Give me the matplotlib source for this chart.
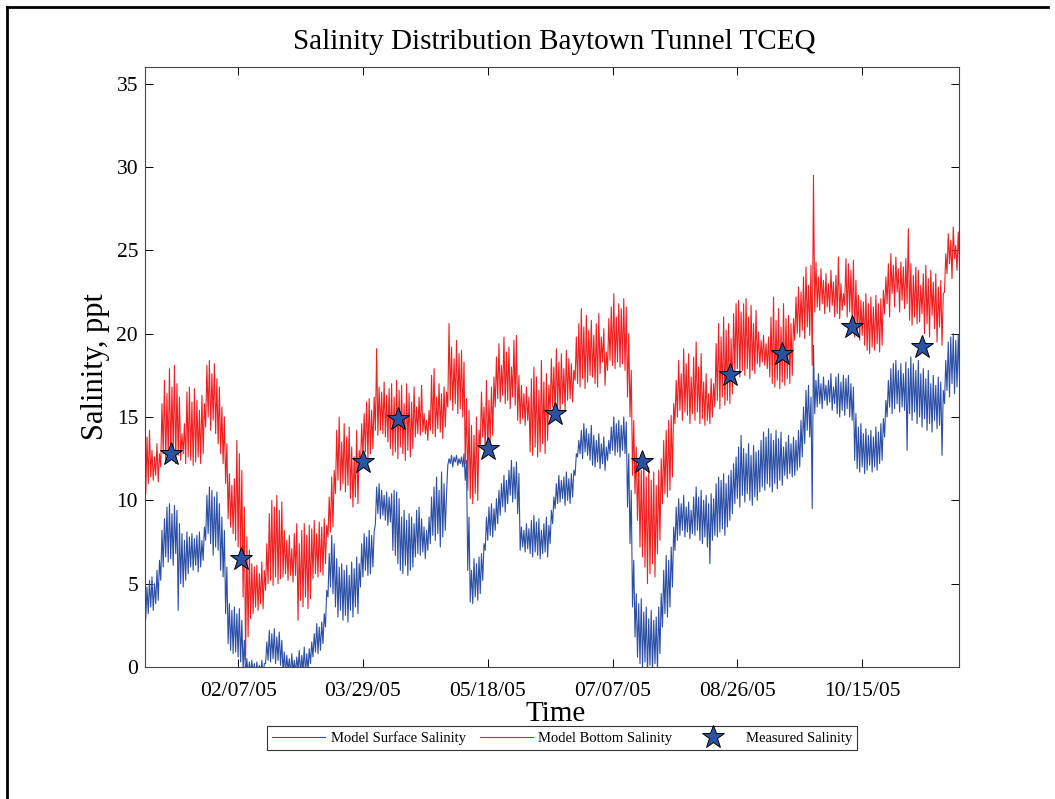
import numpy as np
import matplotlib
matplotlib.use("Agg")
import matplotlib.pyplot as plt
import matplotlib.dates as mdates
from matplotlib.lines import Line2D
from datetime import datetime

plt.rcParams["font.family"] = ["Liberation Serif", "DejaVu Serif"]

start = datetime(2005, 1, 1)

# Daily low / high of the modelled salinity (ppt), one value per day from 01/01/05
bottom_lo = [
    10.4, 11.0, 11.4, 11.2, 11.5, 11.1, 12.0, 12.8, 12.3, 12.6,
    12.5, 12.9, 12.2, 12.7, 12.4, 12.8, 12.2, 12.6, 12.4, 12.1,
    12.3, 12.6, 12.2, 12.8, 14.4, 15.0, 14.2, 14.8, 14.0, 13.4,
    12.8, 12.2, 11.0, 8.9, 8.4, 8.0, 7.6, 7.2, 6.4, 4.2,
    0.4, 1.8, 2.9, 3.2, 3.6, 3.4, 3.8, 3.5, 4.6, 5.0,
    5.2, 4.9, 5.4, 5.0, 5.3, 5.4, 5.6, 5.2, 5.5, 5.1,
    5.5, 2.8, 4.0, 3.6, 4.2, 3.5, 4.1, 5.3, 5.6, 5.4,
    5.7, 5.5, 6.2, 7.8, 8.1, 8.4, 10.4, 11.2, 10.6, 11.0,
    10.5, 10.9, 10.1, 9.6, 10.2, 9.8, 12.0, 12.6, 12.9, 12.5,
    12.8, 13.1, 14.2, 13.9, 14.2, 14.0, 13.8, 13.5, 13.1, 12.7,
    12.9, 12.5, 13.2, 12.8, 12.4, 13.0, 12.6, 13.1, 13.8, 14.0,
    13.9, 14.1, 14.0, 13.6, 14.2, 14.0, 13.8, 14.3, 14.1, 13.7,
    14.4, 15.6, 16.0, 15.4, 15.8, 15.2, 15.5, 15.0, 12.2, 10.6,
    10.1, 9.8, 10.4, 10.0, 13.2, 13.8, 13.1, 12.8, 13.5, 13.9,
    15.6, 16.1, 15.9, 16.3, 15.8, 16.0, 15.5, 16.2, 15.7, 14.8,
    14.6, 14.9, 14.5, 14.8, 12.9, 12.7, 13.2, 12.6, 12.9, 13.4,
    12.8, 13.6, 15.2, 15.6, 15.0, 15.5, 15.3, 15.8, 15.4, 16.0,
    16.1, 15.9, 17.2, 17.0, 16.8, 17.3, 16.7, 17.1, 17.5, 17.4,
    17.0, 16.8, 17.6, 18.3, 16.9, 17.8, 18.4, 18.1, 17.9, 18.3,
    18.0, 18.2, 17.8, 16.2, 15.0, 11.5, 10.4, 8.8, 7.2, 6.6,
    6.0, 5.0, 5.6, 6.2, 5.4, 6.8, 7.6, 9.8, 10.4, 10.2,
    10.6, 11.4, 14.6, 15.0, 15.4, 14.8, 15.3, 15.1, 14.6, 15.2,
    14.8, 15.3, 14.6, 14.9, 14.5, 14.8, 14.6, 15.0, 15.6, 16.0,
    15.5, 16.2, 15.7, 16.0, 15.8, 16.4, 17.6, 17.9, 17.4, 17.8,
    17.5, 17.9, 17.3, 17.8, 17.6, 18.2, 18.0, 18.3, 18.1, 17.9,
    17.4, 17.0, 16.8, 17.2, 16.7, 17.1, 16.9, 17.3, 17.0, 17.5,
    19.6, 20.0, 19.8, 20.2, 19.7, 20.4, 19.9, 18.1, 21.3, 21.6,
    21.4, 21.8, 21.2, 21.6, 21.3, 21.7, 21.0, 21.2, 20.9, 21.4,
    21.7, 21.0, 21.3, 20.8, 19.8, 20.1, 19.6, 19.9, 19.3, 19.0,
    18.8, 19.2, 19.0, 19.4, 18.9, 19.3, 21.2, 21.8, 21.0, 22.4,
    21.6, 22.5, 21.3, 22.0, 21.5, 21.8, 20.8, 20.5, 21.0, 20.6,
    20.7, 21.2, 20.0, 20.6, 19.8, 21.1, 20.3, 19.5, 20.4, 19.3,
    22.5, 23.6, 24.2, 23.3, 24.5, 23.8, 24.1, 22.8, 23.5, 24.0,
]
bottom_hi = [
    13.8, 14.2, 13.0, 12.6, 13.4, 12.8, 15.8, 17.2, 16.4, 17.9,
    16.8, 18.1, 17.0, 16.2, 14.0, 14.6, 16.5, 16.8, 15.9, 16.7,
    16.0, 15.4, 16.3, 15.8, 18.1, 18.4, 17.6, 18.2, 17.3, 16.8,
    15.6, 15.0, 13.4, 11.6, 10.9, 11.3, 13.6, 12.8, 11.8, 9.6,
    7.8, 7.0, 6.2, 6.0, 6.1, 5.6, 6.3, 5.8, 7.4, 9.2,
    10.0, 9.6, 10.3, 9.4, 9.9, 8.2, 7.6, 7.9, 7.1, 8.0,
    8.6, 7.4, 8.2, 8.6, 7.9, 8.5, 8.3, 8.8, 8.0, 8.7,
    8.4, 8.9, 8.5, 10.2, 11.4, 11.8, 14.2, 15.0, 13.5, 14.6,
    13.8, 14.4, 13.2, 12.6, 14.2, 13.0, 14.6, 15.2, 15.9, 16.1,
    15.4, 16.2, 19.1, 16.8, 16.5, 17.1, 16.3, 16.7, 17.0, 16.2,
    17.2, 16.6, 16.9, 15.8, 17.0, 16.4, 15.9, 16.8, 15.6, 16.2,
    16.9, 15.2, 14.8, 15.4, 17.5, 17.9, 16.2, 17.0, 16.4, 16.8,
    16.5, 20.6, 19.2, 18.5, 19.6, 18.8, 19.0, 18.3, 16.1, 15.4,
    14.5, 13.9, 15.0, 14.2, 16.5, 15.6, 17.2, 16.0, 16.8, 17.4,
    18.6, 19.4, 18.1, 19.8, 18.9, 19.2, 18.0, 19.6, 19.9, 17.5,
    16.9, 16.4, 16.8, 16.2, 17.3, 18.0, 17.4, 16.6, 18.4, 17.1,
    17.6, 16.9, 18.5, 18.0, 19.1, 18.3, 18.8, 17.9, 19.0, 18.5,
    18.2, 17.8, 19.8, 20.6, 21.5, 20.4, 21.1, 20.2, 20.8, 19.9,
    20.6, 21.2, 19.8, 20.3, 18.9, 20.9, 21.6, 22.4, 21.0, 21.8,
    21.5, 22.1, 21.6, 20.0, 17.8, 14.8, 13.2, 12.4, 11.8, 12.6,
    11.4, 12.0, 11.2, 11.7, 10.9, 11.8, 12.5, 13.6, 14.2, 14.8,
    15.1, 15.8, 17.2, 18.4, 17.6, 19.1, 18.2, 18.8, 17.4, 18.6,
    19.5, 18.0, 18.8, 17.1, 17.6, 16.4, 17.3, 17.0, 19.4, 20.6,
    19.8, 21.0, 20.2, 20.6, 19.7, 21.2, 21.8, 22.0, 21.3, 21.8,
    22.1, 21.0, 21.7, 20.6, 21.4, 20.1, 19.6, 19.9, 19.4, 19.8,
    21.0, 22.2, 20.8, 21.5, 20.4, 21.8, 20.9, 21.1, 20.6, 20.9,
    22.2, 22.8, 22.5, 23.4, 24.0, 22.9, 24.1, 29.5, 24.3, 23.4,
    23.9, 23.2, 23.6, 23.0, 23.8, 23.1, 23.5, 24.6, 23.0, 22.4,
    24.5, 24.2, 23.8, 24.4, 23.2, 22.3, 22.0, 21.9, 22.4, 21.8,
    22.2, 21.6, 22.3, 21.8, 22.1, 22.6, 23.4, 24.2, 24.8, 24.1,
    24.6, 23.9, 24.3, 24.0, 24.5, 26.3, 24.2, 23.5, 24.0, 23.8,
    22.9, 23.6, 24.1, 23.3, 23.8, 23.1, 23.6, 22.8, 23.2, 22.4,
    24.8, 26.0, 25.6, 26.4, 25.3, 26.1, 25.7, 25.9, 25.4, 25.8,
]
surface_lo = [
    2.9, 3.2, 3.6, 3.4, 3.8, 4.0, 5.2, 6.0, 6.6, 6.3,
    6.5, 6.1, 6.8, 3.4, 5.0, 4.8, 5.2, 5.6, 6.0, 5.8,
    6.1, 5.7, 6.0, 6.4, 7.6, 8.0, 7.4, 6.7, 7.2, 7.0,
    5.8, 5.4, 3.2, 1.4, 1.0, 0.8, 0.9, 0.6, 0.3, -0.2,
    -0.5, -0.6, -0.4, -0.5, -0.6, -0.5, -0.4, -0.6, 0.2, 0.4,
    0.3, 0.5, 0.2, 0.4, 0.1, -0.3, -0.4, -0.2, -0.5, -0.3,
    -0.4, -0.2, -0.5, -0.3, -0.4, -0.2, 0.2, 0.6, 0.9, 0.8,
    1.0, 1.4, 2.4, 4.2, 4.8, 4.4, 3.6, 3.0, 3.4, 2.8,
    3.1, 2.7, 3.4, 3.0, 3.6, 3.2, 4.8, 5.4, 5.8, 5.5,
    5.6, 6.0, 8.6, 9.2, 8.9, 9.1, 8.8, 8.5, 8.7, 7.0,
    6.7, 6.2, 5.8, 5.6, 6.1, 5.5, 5.8, 6.0, 6.6, 6.8,
    6.7, 6.9, 6.5, 7.0, 7.4, 7.9, 7.6, 8.0, 7.2, 7.8,
    8.2, 12.1, 12.2, 12.0, 12.3, 12.1, 12.2, 12.0, 11.2, 5.8,
    3.9, 3.8, 4.2, 4.0, 4.4, 5.2, 7.0, 7.6, 7.9, 7.8,
    8.2, 8.6, 9.1, 9.6, 9.3, 9.8, 10.3, 9.9, 10.1, 9.2,
    7.0, 7.2, 6.9, 7.1, 6.8, 6.6, 6.9, 6.7, 6.5, 6.8,
    6.9, 6.6, 7.4, 8.6, 9.5, 9.8, 9.9, 10.1, 9.7, 10.0,
    9.8, 10.2, 11.5, 12.6, 12.8, 12.5, 12.9, 12.7, 12.4, 12.1,
    12.0, 12.3, 11.9, 12.2, 11.8, 12.4, 12.8, 13.0, 12.7, 12.9,
    12.6, 13.0, 12.8, 9.6, 7.4, 3.6, 1.8, 0.6, 0.2, -0.1,
    0.3, -0.4, 0.1, -0.3, 0.2, -0.2, 0.8, 2.4, 3.2, 3.0,
    3.6, 4.8, 7.0, 7.6, 7.9, 8.2, 7.8, 8.1, 7.7, 8.0,
    7.9, 8.2, 7.6, 7.4, 7.8, 7.2, 6.2, 7.6, 7.9, 7.8,
    8.1, 8.3, 7.9, 8.4, 8.8, 9.2, 9.8, 10.1, 9.6, 10.3,
    9.9, 10.4, 10.0, 9.7, 10.2, 10.0, 10.5, 10.8, 10.6, 11.0,
    10.8, 10.5, 11.0, 10.7, 11.2, 10.9, 11.5, 11.3, 11.6, 11.4,
    11.5, 11.8, 12.0, 12.6, 13.4, 14.2, 13.8, 9.5, 15.2, 15.6,
    15.8, 15.5, 16.0, 15.7, 15.9, 15.4, 15.8, 15.2, 15.0, 15.4,
    15.1, 15.5, 15.0, 14.8, 12.4, 11.9, 11.7, 12.0, 11.6, 11.8,
    12.1, 11.7, 12.0, 11.8, 12.2, 12.4, 13.8, 15.0, 15.6, 15.2,
    15.5, 15.8, 15.3, 15.6, 15.4, 13.0, 15.2, 14.8, 15.3, 14.6,
    15.0, 14.4, 14.9, 14.2, 14.6, 14.1, 14.8, 14.3, 14.5, 12.7,
    15.8, 16.6, 16.2, 17.0, 16.4, 16.8, 17.2, 16.5, 16.9, 17.1,
]
surface_hi = [
    4.8, 5.2, 5.4, 5.0, 5.8, 6.4, 8.2, 8.9, 9.6, 9.8,
    9.2, 9.7, 9.4, 8.6, 8.0, 7.6, 8.1, 7.8, 8.0, 7.7,
    7.9, 8.1, 7.6, 8.4, 10.3, 10.8, 10.6, 10.2, 10.5, 9.8,
    9.0, 8.2, 6.0, 3.8, 3.4, 3.6, 3.2, 3.5, 2.8, 1.6,
    0.5, 0.3, 0.4, 0.2, 0.3, 0.1, 0.4, 0.2, 1.5, 2.2,
    2.0, 2.3, 1.8, 2.1, 1.6, 0.9, 0.7, 0.5, 0.8, 0.4,
    0.6, 1.0, 0.7, 1.2, 0.8, 1.1, 1.5, 2.0, 2.6, 2.4,
    2.7, 3.2, 4.6, 6.8, 7.9, 7.4, 6.5, 6.0, 6.2, 5.8,
    6.1, 5.5, 6.3, 5.9, 6.6, 6.2, 7.4, 8.0, 7.8, 8.2,
    7.9, 8.1, 10.8, 11.0, 10.6, 10.3, 10.5, 10.2, 10.4, 10.6,
    10.5, 10.1, 9.0, 9.4, 8.8, 9.2, 9.0, 8.6, 9.4, 9.6,
    8.9, 8.4, 8.2, 9.0, 10.2, 10.8, 11.4, 10.6, 11.7, 11.0,
    10.4, 12.5, 12.7, 12.6, 12.7, 12.5, 12.6, 12.8, 12.4, 9.0,
    5.8, 6.5, 6.2, 6.6, 6.8, 7.4, 9.0, 9.6, 9.8, 9.5,
    10.1, 10.6, 11.0, 11.5, 11.2, 11.8, 12.4, 12.0, 12.3, 11.6,
    8.4, 8.2, 8.6, 8.3, 8.8, 9.1, 8.7, 8.9, 8.2, 8.6,
    9.0, 8.5, 9.4, 10.2, 11.0, 11.5, 11.2, 11.4, 11.7, 11.3,
    11.6, 11.8, 12.8, 13.6, 14.2, 14.6, 14.3, 14.0, 14.5, 13.9,
    13.6, 14.0, 13.4, 13.8, 13.2, 13.6, 14.4, 15.0, 14.6, 14.8,
    14.5, 15.0, 14.7, 12.8, 10.6, 6.4, 4.4, 3.8, 4.1, 3.3,
    3.6, 2.9, 3.4, 2.8, 3.0, 3.6, 4.4, 5.8, 6.7, 6.4,
    7.2, 8.4, 9.6, 10.1, 9.8, 10.3, 9.6, 9.9, 9.4, 10.2,
    10.8, 10.2, 10.6, 10.0, 10.3, 9.8, 10.4, 10.1, 11.0, 11.4,
    11.2, 11.6, 11.0, 11.5, 11.8, 12.2, 12.6, 13.2, 13.9, 13.1,
    12.8, 13.4, 12.7, 13.3, 12.9, 13.0, 13.6, 14.1, 13.8, 14.3,
    14.0, 13.6, 14.2, 13.7, 14.1, 13.2, 13.5, 13.9, 13.4, 13.8,
    13.6, 14.2, 14.8, 15.6, 16.6, 16.9, 16.2, 19.3, 17.2, 17.6,
    17.0, 17.4, 16.9, 17.2, 17.6, 16.8, 17.4, 17.6, 17.1, 17.5,
    17.3, 17.5, 17.0, 16.8, 15.2, 14.4, 14.6, 14.0, 14.3, 13.9,
    14.2, 13.8, 14.4, 14.1, 14.6, 14.9, 16.0, 17.2, 17.9, 18.2,
    18.4, 17.8, 18.2, 17.6, 18.3, 17.9, 18.6, 18.2, 17.8, 18.4,
    17.6, 17.9, 17.3, 17.8, 17.0, 17.5, 16.9, 17.4, 17.1, 16.6,
    18.4, 19.5, 19.8, 20.0, 19.6, 19.9, 19.7, 19.8, 19.5, 19.9,
]

# Field measurements
measured_dates = ["2005-01-11", "2005-02-08", "2005-03-29", "2005-04-12",
                  "2005-05-18", "2005-06-14", "2005-07-19", "2005-08-23",
                  "2005-09-13", "2005-10-11", "2005-11-08"]
measured_salinity = [12.8, 6.5, 12.3, 14.9, 13.1, 15.2, 12.3, 17.5, 18.8, 20.4, 19.2]

tick_dates = ["2005-02-07", "2005-03-29", "2005-05-18", "2005-07-07",
              "2005-08-26", "2005-10-15"]


def tidal_trace(lo, hi):
    # alternate the daily low and high so the line swings through the tide
    n = min(len(lo), len(hi))
    days = np.arange(n)
    t = np.column_stack([days, days + 0.5]).ravel()
    y = np.column_stack([lo[:n], hi[:n]]).ravel()
    return mdates.date2num(start) + t, y


def to_num(dates):
    return mdates.date2num([datetime.strptime(d, "%Y-%m-%d") for d in dates])


fig = plt.figure(figsize=(10.55, 7.99), dpi=100)
ax = fig.add_axes([145 / 1055, 132 / 799, 814 / 1055, 600 / 799])

xs, ys = tidal_trace(surface_lo, surface_hi)
xb, yb = tidal_trace(bottom_lo, bottom_hi)
ax.plot(xs, ys, color="#2b4fa6", lw=0.8, label="Model Surface Salinity")
ax.plot(xb, yb, color="#f02020", lw=0.8, label="Model Bottom Salinity")
ax.plot(to_num(measured_dates), measured_salinity, ls="none", marker="*",
        ms=17, mfc="#2a52a4", mec="black", mew=0.7, label="Measured Salinity")

t0 = mdates.date2num(start)
ax.set_xlim(t0 - 0.3, t0 + 325.8)
ax.set_ylim(0, 36)
ax.set_yticks(range(0, 36, 5))
ax.set_xticks(to_num(tick_dates))
ax.xaxis.set_major_formatter(mdates.DateFormatter("%m/%d/%y"))
ax.tick_params(direction="in", top=True, right=True, length=6, width=0.7,
               labelsize=15.5)
ax.tick_params(axis="x", pad=11)
ax.tick_params(axis="y", pad=5)
for s in ax.spines.values():
    s.set_linewidth(0.8)
    s.set_color("#444444")

fig.text(554 / 1055, 1 - 42 / 799, "Salinity Distribution Baytown Tunnel TCEQ",
         ha="center", va="center", fontsize=21)
fig.text(556 / 1055, 1 - 714 / 799, "Time", ha="center", va="center", fontsize=21)
fig.text(95 / 1055, 1 - 367 / 799, "Salinity, ppt", ha="center", va="center",
         rotation=90, fontsize=22)

handles, labels = ax.get_legend_handles_labels()
leg = fig.legend(handles, labels, loc="center", bbox_to_anchor=(562 / 1055, 1 - 738 / 799),
                 ncol=3, fontsize=10.5, frameon=True, fancybox=False,
                 edgecolor="black", handlelength=3.6, columnspacing=1.0,
                 borderpad=0.35, handletextpad=0.4)
leg.get_frame().set_linewidth(0.8)

# page border
fig.add_artist(Line2D([7 / 1055, 7 / 1055], [0, 1 - 7 / 799], transform=fig.transFigure,
                      color="black", lw=2))
fig.add_artist(Line2D([7 / 1055, 1048 / 1055], [1 - 7 / 799, 1 - 7 / 799],
                      transform=fig.transFigure, color="black", lw=2))

fig.savefig("out.png", dpi=100)
